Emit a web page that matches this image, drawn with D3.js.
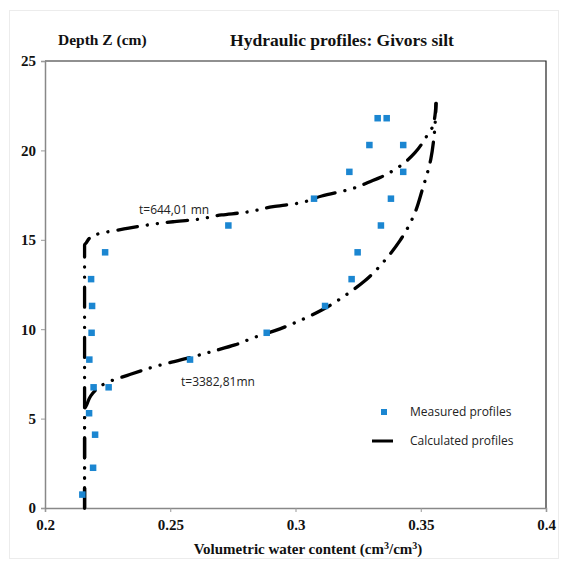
<!DOCTYPE html>
<html><head><meta charset="utf-8">
<script src="https://cdn.jsdelivr.net/npm/d3@7"></script>
<style>body{margin:0;background:#fff}</style>
</head><body><svg id="c" width="561" height="562"></svg>
<script>
// Measured profiles
const measTheta = [0.2149,0.2192,0.2200,0.2176,0.2194,0.2254,0.2177,0.2579,0.2186,0.2885,0.2188,0.3118,0.2184,0.3224,0.2240,0.3248,0.2732,0.3341,0.3074,0.3381,0.3215,0.3430,0.3295,0.3430,0.3328,0.3364];
const measZ     = [0.75,2.25,4.1,5.3,6.75,6.75,8.3,8.3,9.8,9.8,11.3,11.3,12.8,12.8,14.3,14.3,15.8,15.8,17.3,17.3,18.8,18.8,20.3,20.3,21.8,21.8];
// Calculated profile t=644,01 mn
const c1Theta = [0.2158,0.2158,0.2164,0.2186,0.2220,0.2306,0.2382,0.2511,0.2590,0.2705,0.2789,0.2911,0.2991,0.3105,0.3231,0.3297,0.3340,0.3414,0.3477,0.3504,0.3528,0.3550,0.3561];
const c1Z     = [0,14.71,14.82,15.17,15.36,15.58,15.77,16.01,16.11,16.39,16.52,16.85,17.00,17.45,17.88,18.25,18.50,19.09,19.87,20.36,20.90,21.42,22.63];
// Calculated profile t=3382,81 mn
const c2Theta = [0.2158,0.2158,0.2168,0.2182,0.2208,0.2246,0.2329,0.2446,0.2566,0.2679,0.2758,0.2838,0.2918,0.3029,0.3105,0.3211,0.3277,0.3364,0.3417,0.3477,0.3506,0.3540,0.3553,0.3561];
const c2Z     = [0,5.48,5.82,6.26,6.66,7.01,7.42,7.94,8.37,8.80,9.12,9.55,9.92,10.55,11.07,12.01,12.71,13.97,14.95,16.52,17.79,19.50,20.77,22.63];
const xTicks = [0.2,0.25,0.3,0.35,0.4];
const xTickLabels = ["0.2","0.25","0.3","0.35","0.4"];
const yTicks = [0,5,10,15,20,25];

const svg = d3.select("#c");
const L=45,R=546,T=61,B=508;
const x = d3.scaleLinear().domain([0.2,0.4]).range([L,R]);
const y = d3.scaleLinear().domain([0,25]).range([B,T]);
const serif = "'Liberation Serif','Times New Roman',serif";
const sans = "'Open Sans','Liberation Sans',Arial,sans-serif";

// outer faint frame
svg.append("rect").attr("x",9.5).attr("y",10.5).attr("width",549).attr("height",548)
  .attr("fill","none").attr("stroke","#ececec");

// plot frame top/right
svg.append("path").attr("d",`M${L},${T}H${R}V${B}`).attr("fill","none").attr("stroke","#222").attr("stroke-width",1.2);

const xa = svg.append("g").attr("transform",`translate(0,${B})`)
  .call(d3.axisBottom(x).tickValues(xTicks).tickFormat((d,i)=>xTickLabels[i]).tickSize(4).tickPadding(7));
const ya = svg.append("g").attr("transform",`translate(${L},0)`)
  .call(d3.axisLeft(y).tickValues(yTicks).tickSize(4).tickPadding(5));
[xa,ya].forEach(a=>{
  a.select(".domain").attr("stroke","#888").attr("stroke-width",1.5);
  a.selectAll(".tick line").attr("stroke","#999");
  a.selectAll("text").attr("font-family",serif).attr("font-weight","bold").attr("font-size",15).attr("fill","#111");
});

// curves
const line = d3.line().x(d=>x(d[0])).y(d=>y(d[1])).curve(d3.curveMonotoneY);
function curve(th,z){
  return svg.append("path").datum(th.map((t,i)=>[t,z[i]])).attr("d",line)
   .attr("fill","none").attr("stroke","#000").attr("stroke-width",3.3)
   .attr("stroke-linecap","round").attr("stroke-dasharray","20,10,0.1,10,0.1,10");
}
curve(c1Theta,c1Z);
curve(c2Theta,c2Z);

// measured points
svg.append("g").selectAll("rect").data(measTheta.map((t,i)=>[t,measZ[i]])).join("rect")
  .attr("x",d=>x(d[0])-3.25).attr("y",d=>y(d[1])-3.25).attr("width",6.5).attr("height",6.5)
  .attr("fill","#1b86d1");

// annotations
svg.append("text").attr("x",139).attr("y",214).text("t=644,01 mn")
  .attr("font-family",sans).attr("font-size",12).attr("fill","#222");
svg.append("text").attr("x",181).attr("y",386).text("t=3382,81mn")
  .attr("font-family",sans).attr("font-size",12).attr("fill","#222");

// titles
svg.append("text").attr("x",58).attr("y",45).text("Depth Z (cm)")
  .attr("font-family",serif).attr("font-weight","bold").attr("font-size",15.5).attr("fill","#111");
svg.append("text").attr("x",342).attr("y",46).attr("text-anchor","middle").text("Hydraulic profiles: Givors silt")
  .attr("font-family",serif).attr("font-weight","bold").attr("font-size",17.5).attr("fill","#111");
const xt = svg.append("text").attr("x",308).attr("y",554).attr("text-anchor","middle")
  .attr("font-family",serif).attr("font-weight","bold").attr("font-size",15).attr("fill","#111");
xt.append("tspan").text("Volumetric water content (cm");
xt.append("tspan").text("3").attr("font-size",10).attr("dy",-5);
xt.append("tspan").text("/cm").attr("dy",5);
xt.append("tspan").text("3").attr("font-size",10).attr("dy",-5);
xt.append("tspan").text(")").attr("dy",5);

// legend
svg.append("rect").attr("x",381).attr("y",409).attr("width",6).attr("height",6).attr("fill","#1b86d1");
svg.append("text").attr("x",410).attr("y",416).text("Measured profiles")
  .attr("font-family",sans).attr("font-size",12).attr("fill","#222");
svg.append("line").attr("x1",372).attr("x2",393).attr("y1",441).attr("y2",441).attr("stroke","#000").attr("stroke-width",3);
svg.append("text").attr("x",410).attr("y",445).text("Calculated profiles")
  .attr("font-family",sans).attr("font-size",12).attr("fill","#222");
</script></body></html>
